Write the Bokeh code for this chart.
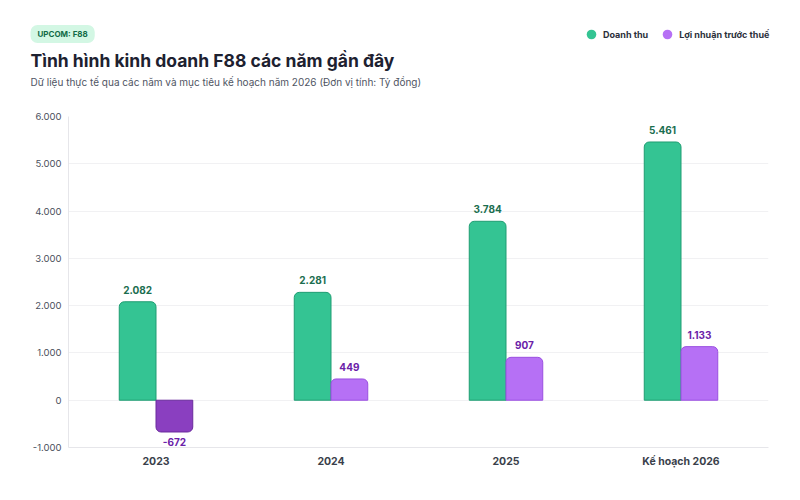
from bokeh.plotting import figure
from bokeh.layouts import column
from bokeh.models import (FactorRange, Range1d, Label, Legend, LegendItem,
                          CustomJSTickFormatter, FixedTicker, ColumnDataSource)
from bokeh.transform import dodge
from bokeh.core.properties import value
from bokeh.embed import file_html
from bokeh.resources import INLINE

# ---- data ----
categories = ["2023", "2024", "2025", "Kế hoạch 2026"]
revenue = [2082, 2281, 3784, 5461]
profit = [-672, 449, 907, 1133]
series_names = ["Doanh thu", "Lợi nhuận trước thuế"]
y_ticks = [-1000, 0, 1000, 2000, 3000, 4000, 5000, 6000]

title = "Tình hình kinh doanh F88 các năm gần đây"
subtitle = "Dữ liệu thực tế qua các năm và mục tiêu kế hoạch năm 2026 (Đơn vị tính: Tỷ đồng)"
badge = "UPCOM: F88"

def fmt(v):
    return f"{v:,}".replace(",", ".")

FONT = "Inter"
GREEN = "#34c493"
GREEN_LINE = "#1f9d72"
GREEN_TEXT = "#1b6e4f"
PURPLE = "#b670f5"
PURPLE_LINE = "#9a4fe0"
PURPLE_NEG = "#8a3fc0"
PURPLE_NEG_LINE = "#6a2a9c"
PURPLE_TEXT = "#6b21a8"

W = 800
HEAD_H = 106
H = 500 - HEAD_H
L, R, T, B = 68, 32, 10, 53

# ---------------- header figure ----------------
head = figure(width=W, height=HEAD_H, x_range=Range1d(0, W), y_range=Range1d(HEAD_H, 0),
              output_backend="svg", toolbar_location=None, min_border=0,
              x_axis_type=None, y_axis_type=None)
head.frame_align = False
head.outline_line_color = None
head.xgrid.visible = False
head.ygrid.visible = False

head.add_layout(Label(x=30, y=33.5, text=badge,
                      text_font=FONT, text_font_size="8px", text_font_style="bold",
                      text_color="#116b47", text_baseline="middle",
                      background_fill_color="#d3f7e4", border_radius=7, padding=(7, 4)))
head.add_layout(Label(x=30, y=60, text=title,
                      text_font=FONT, text_font_size="17.5px", text_font_style="bold",
                      text_color="#1d2130", text_baseline="middle"))
head.add_layout(Label(x=30, y=81, text=subtitle,
                      text_font=FONT, text_font_size="10px",
                      text_color="#4f5563", text_baseline="middle"))

# legend proxies (kept outside the visible header range)
g1 = head.scatter(x=[-1000], y=[-1000], marker="circle", size=10, fill_color=GREEN, line_color=None)
g2 = head.scatter(x=[-1000], y=[-1000], marker="circle", size=10, fill_color=PURPLE, line_color=None)
legend = Legend(items=[LegendItem(label=series_names[0], renderers=[g1]),
                       LegendItem(label=series_names[1], renderers=[g2])],
                orientation="horizontal", location=(579, HEAD_H - 46),
                border_line_color=None, background_fill_alpha=0,
                label_text_font=FONT, label_text_font_size="9px",
                label_text_font_style="bold", label_text_color="#2b303b",
                glyph_width=24, glyph_height=24, label_height=24, spacing=7,
                padding=0, margin=0, label_standoff=0)
head.add_layout(legend, "center")

# ---------------- chart figure ----------------
p = figure(width=W, height=H, x_range=FactorRange(*categories),
           y_range=Range1d(-1000, 6000), output_backend="svg",
           toolbar_location=None, min_border_left=L, min_border_right=R,
           min_border_top=T, min_border_bottom=B)
p.frame_align = False
p.outline_line_color = None

p.xgrid.grid_line_color = None
p.ygrid.grid_line_color = "#f1f1f3"

p.yaxis.ticker = FixedTicker(ticks=y_ticks)
p.yaxis.formatter = CustomJSTickFormatter(code="return String(tick).replace(/\\B(?=(\\d{3})+(?!\\d))/g, '.');")
p.yaxis.major_tick_line_color = None
p.yaxis.minor_tick_line_color = None
p.yaxis.axis_line_color = "#e6e6ea"
p.yaxis.major_label_text_font = FONT
p.yaxis.major_label_text_font_size = "9.5px"
p.yaxis.major_label_text_color = "#4b5160"
p.yaxis.major_label_standoff = 1

p.xaxis.major_tick_line_color = None
p.xaxis.minor_tick_line_color = None
p.xaxis.axis_line_color = "#e6e6ea"
p.xaxis.major_label_text_font = FONT
p.xaxis.major_label_text_font_size = "10.5px"
p.xaxis.major_label_text_font_style = "bold"
p.xaxis.major_label_text_color = "#3a3f4b"
p.xaxis.major_label_standoff = 1

BW = 0.21
OFF = 0.105

src_rev = ColumnDataSource(dict(x=categories, top=revenue, lbl=[fmt(v) for v in revenue]))
pos_idx = [i for i, v in enumerate(profit) if v >= 0]
neg_idx = [i for i, v in enumerate(profit) if v < 0]
src_pp = ColumnDataSource(dict(x=[categories[i] for i in pos_idx], top=[profit[i] for i in pos_idx],
                               lbl=[fmt(profit[i]) for i in pos_idx]))
src_pn = ColumnDataSource(dict(x=[categories[i] for i in neg_idx], top=[profit[i] for i in neg_idx],
                               lbl=[fmt(profit[i]) for i in neg_idx]))

p.vbar(x=dodge("x", -OFF, range=p.x_range), top="top", bottom=0, width=BW, source=src_rev,
       fill_color=GREEN, line_color=GREEN_LINE, line_width=1, border_radius=(5, 5, 0, 0))
p.vbar(x=dodge("x", OFF, range=p.x_range), top="top", bottom=0, width=BW, source=src_pp,
       fill_color=PURPLE, line_color=PURPLE_LINE, line_width=1, border_radius=(5, 5, 0, 0))
p.vbar(x=dodge("x", OFF, range=p.x_range), top=0, bottom="top", width=BW, source=src_pn,
       fill_color=PURPLE_NEG, line_color=PURPLE_NEG_LINE, line_width=1, border_radius=(0, 0, 5, 5))

p.text(x=dodge("x", -OFF, range=p.x_range), y="top", text="lbl", source=src_rev,
       text_font=value(FONT), text_font_size="10px", text_font_style="bold",
       text_color=GREEN_TEXT, text_align="center", text_baseline="bottom", y_offset=-8)
p.text(x=dodge("x", OFF, range=p.x_range), y="top", text="lbl", source=src_pp,
       text_font=value(FONT), text_font_size="10px", text_font_style="bold",
       text_color=PURPLE_TEXT, text_align="center", text_baseline="bottom", y_offset=-8)
p.text(x=dodge("x", OFF, range=p.x_range), y="top", text="lbl", source=src_pn,
       text_font=value(FONT), text_font_size="10px", text_font_style="bold",
       text_color=PURPLE_TEXT, text_align="center", text_baseline="top", y_offset=6)

layout = column(head, p, spacing=0)
open("out.html", "w").write(file_html(layout, INLINE))
